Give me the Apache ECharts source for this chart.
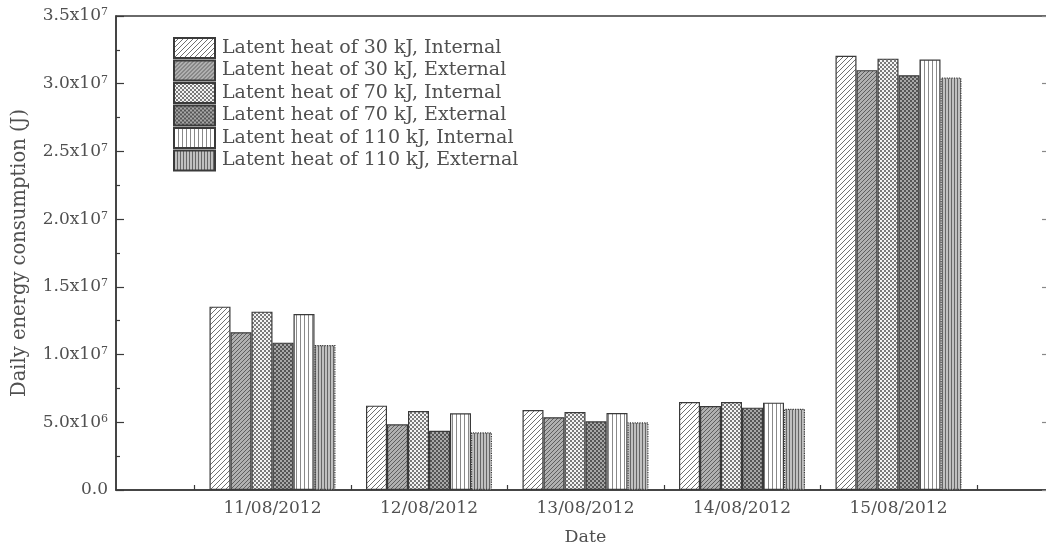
<!DOCTYPE html>
<html>
<head>
<meta charset="utf-8">
<script src="https://cdn.jsdelivr.net/npm/echarts@6/dist/echarts.min.js"></script>
<style>
  html, body { margin: 0; padding: 0; background: #fff; }
  #chart { width: 1046px; height: 550px; }
</style>
</head>
<body>
<div id="chart"></div>
<script>
// Dates on the horizontal axis
const categories = ['11/08/2012', '12/08/2012', '13/08/2012', '14/08/2012', '15/08/2012'];

// Daily energy consumption (J) per case
const seriesNames = [
  'Latent heat of 30 kJ, Internal',
  'Latent heat of 30 kJ, External',
  'Latent heat of 70 kJ, Internal',
  'Latent heat of 70 kJ, External',
  'Latent heat of 110 kJ, Internal',
  'Latent heat of 110 kJ, External'
];
const lh30Internal  = [1.354e7, 6.23e6, 5.91e6, 6.50e6, 3.207e7];
const lh30External  = [1.165e7, 4.85e6, 5.37e6, 6.20e6, 3.100e7];
const lh70Internal  = [1.317e7, 5.83e6, 5.76e6, 6.50e6, 3.185e7];
const lh70External  = [1.088e7, 4.38e6, 5.07e6, 6.08e6, 3.063e7];
const lh110Internal = [1.300e7, 5.66e6, 5.69e6, 6.45e6, 3.178e7];
const lh110External = [1.071e7, 4.26e6, 5.00e6, 6.00e6, 3.045e7];

// Y tick labels (0 to 3.5x10^7, step 5x10^6)
const yTickLabels = [
  '0.0',
  '5.0x10{sup|6}',
  '1.0x10{sup|7}',
  '1.5x10{sup|7}',
  '2.0x10{sup|7}',
  '2.5x10{sup|7}',
  '3.0x10{sup|7}',
  '3.5x10{sup|7}'
];

const FONT = 'DejaVu Serif';
const TEXT = '#505050';
const AXIS = '#3a3a3a';

// Fill patterns drawn on small repeating tiles
function tile(size, draw) {
  const c = document.createElement('canvas');
  c.width = size; c.height = size;
  const g = c.getContext('2d');
  draw(g, size);
  return { image: c, repeat: 'repeat' };
}
function diagonal(bg, fg, size, w) {
  return tile(size, (g, s) => {
    g.fillStyle = bg; g.fillRect(0, 0, s, s);
    g.strokeStyle = fg; g.lineWidth = w;
    g.beginPath();
    g.moveTo(0, s); g.lineTo(s, 0);
    g.moveTo(-s / 2, s / 2); g.lineTo(s / 2, -s / 2);
    g.moveTo(s / 2, s * 1.5); g.lineTo(s * 1.5, s / 2);
    g.stroke();
  });
}
function dots(bg, fg, size, d) {
  return tile(size, (g, s) => {
    g.fillStyle = bg; g.fillRect(0, 0, s, s);
    g.fillStyle = fg;
    g.fillRect(0, 0, d, d);
    g.fillRect(s / 2, s / 2, d, d);
  });
}
function vertical(bg, fg, size, w) {
  return tile(size, (g, s) => {
    g.fillStyle = bg; g.fillRect(0, 0, s, s);
    g.fillStyle = fg; g.fillRect(0, 0, w, s);
  });
}

const fills = [
  diagonal('#ffffff', '#707070', 5, 1),
  diagonal('#b0b0b0', '#5e5e5e', 4, 1),
  dots('#7a7a7a', '#f4f4f4', 4, 2),
  dots('#555555', '#a8a8a8', 4, 2),
  vertical('#ffffff', '#8a8a8a', 4, 1),
  vertical('#c0c0c0', '#666666', 3, 1)
];
const allValues = [lh30Internal, lh30External, lh70Internal, lh70External, lh110Internal, lh110External];

const series = allValues.map((vals, i) => ({
  name: seriesNames[i],
  type: 'bar',
  barWidth: 21,
  barGap: '0%',
  data: vals.map((v, k) => [k + 1, v]),
  itemStyle: {
    color: fills[i],
    borderColor: '#3a3a3a',
    borderWidth: 1.2,
    borderType: i === 5 ? 'dotted' : 'solid'
  },
  emphasis: { disabled: true }
}));

const chart = echarts.init(document.getElementById('chart'), null, { renderer: 'canvas' });
chart.setOption({
  animation: false,
  backgroundColor: '#ffffff',
  grid: {
    left: 116, width: 939, top: 16, bottom: 60,
    outerBoundsMode: 'none',
    containLabel: false,
    show: true, borderColor: AXIS, borderWidth: 1.5, backgroundColor: 'transparent'
  },
  legend: {
    orient: 'vertical',
    left: 168, top: 32,
    itemWidth: 41, itemHeight: 20, itemGap: 0.5,
    icon: 'rect',
    selectedMode: false,
    textStyle: { fontFamily: FONT, fontSize: 19, color: TEXT, lineHeight: 20, padding: [0, 0, 0, 2] },
    data: seriesNames
  },
  xAxis: {
    type: 'value',
    min: 0, max: 6,
    name: 'Date',
    nameLocation: 'middle',
    nameGap: 38,
    nameTextStyle: { fontFamily: FONT, fontSize: 17.5, color: TEXT },
    axisLine: { show: true, lineStyle: { color: AXIS, width: 1.5 } },
    axisTick: { show: true, inside: true, length: 5, lineStyle: { color: AXIS, width: 1.2 },
                customValues: [0.5, 1.5, 2.5, 3.5, 4.5, 5.5] },
    axisLabel: {
      customValues: [1, 2, 3, 4, 5],
      formatter: v => categories[Math.round(v) - 1] || '',
      fontFamily: FONT, fontSize: 17, color: TEXT, margin: 10
    },
    splitLine: { show: false }
  },
  yAxis: [{
    type: 'value',
    min: 0, max: 3.5e7, interval: 5e6,
    name: 'Daily energy consumption (J)',
    nameLocation: 'middle',
    nameGap: 86,
    nameTextStyle: { fontFamily: FONT, fontSize: 19.5, color: TEXT },
    axisLine: { show: true, lineStyle: { color: AXIS, width: 1.5 } },
    axisTick: { show: true, inside: true, length: 8, lineStyle: { color: AXIS, width: 1.2 } },
    minorTick: { show: true, splitNumber: 2, length: 4, lineStyle: { color: AXIS, width: 1.2 } },
    axisLabel: {
      fontFamily: FONT, fontSize: 17, color: TEXT, margin: 8,
      formatter: v => yTickLabels[Math.round(v / 5e6)] || '',
      rich: {
        sup: { fontFamily: FONT, fontSize: 11, color: TEXT, verticalAlign: 'top', lineHeight: 18, padding: [0, 0, 8, 0] }
      }
    },
    splitLine: { show: false }
  }, {
    type: 'value',
    position: 'right',
    min: 0, max: 3.5e7, interval: 5e6,
    axisLine: { show: true, lineStyle: { color: AXIS, width: 1.5 } },
    axisTick: { show: true, inside: true, length: 13, lineStyle: { color: '#888', width: 1.2 } },
    minorTick: { show: true, splitNumber: 2, length: 6, lineStyle: { color: '#888', width: 1.2 } },
    axisLabel: { show: false },
    splitLine: { show: false }
  }],
  series: series
});
</script>
</body>
</html>
